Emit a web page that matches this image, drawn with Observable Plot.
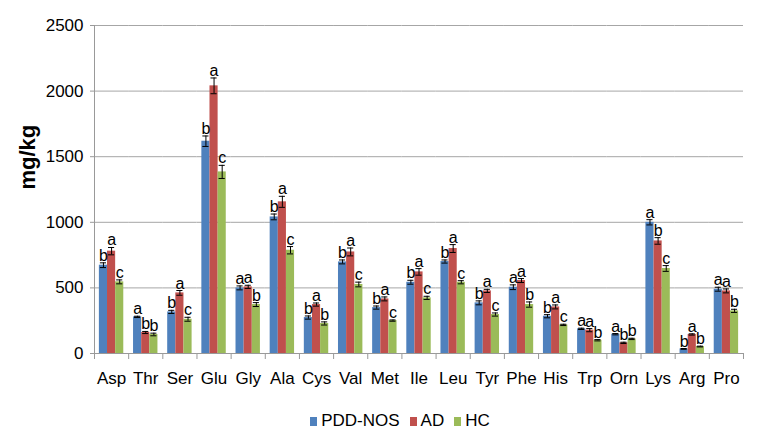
<!DOCTYPE html>
<html>
<head>
<meta charset="utf-8">
<script src="https://cdn.jsdelivr.net/npm/d3@7"></script>
<script src="https://cdn.jsdelivr.net/npm/@observablehq/plot@0.6"></script>
<style>
  html, body { margin: 0; padding: 0; background: #fff; }
  body { width: 782px; height: 445px; overflow: hidden; font-family: "Liberation Sans", Arial, sans-serif; }
  #legend { height: 42px; display: flex; align-items: center; justify-content: center; padding-left: 18px; font-size: 17px; color: #000; }
  #legend .item { display: flex; align-items: center; margin: 0 5px; }
  #legend .sw { width: 7px; height: 9px; margin-right: 4px; }
</style>
</head>
<body>
<div id="chart"></div>
<div id="legend"></div>
<script>
// ---- data ----
const aminoAcids = ["Asp","Thr","Ser","Glu","Gly","Ala","Cys","Val","Met","Ile","Leu","Tyr","Phe","His","Trp","Orn","Lys","Arg","Pro"];
const groups = ["PDD-NOS","AD","HC"];
const groupColors = ["#4F81BD","#C0504D","#9BBB59"];

const pddValues = [673, 279, 317, 1618, 500, 1041, 274, 698, 350, 543, 701, 386, 505, 284, 188, 147, 1000, 35, 490];
const adValues  = [780, 160, 462, 2040, 508, 1156, 373, 774, 416, 622, 800, 477, 556, 355, 178, 81, 858, 145, 477];
const hcValues  = [546, 145, 261, 1384, 373, 787, 229, 526, 251, 424, 543, 297, 373, 218, 101, 111, 648, 53, 325];

const pddErrors = [18, 5, 12, 40, 15, 22, 12, 15, 12, 15, 12, 15, 18, 12, 5, 5, 20, 3, 15];
const adErrors  = [28, 8, 18, 60, 12, 42, 12, 30, 15, 25, 30, 12, 15, 15, 12, 5, 25, 5, 15];
const hcErrors  = [15, 10, 15, 50, 15, 28, 12, 18, 5, 12, 12, 12, 20, 5, 5, 5, 22, 3, 12];

const pddLetters = ["b","a","b","b","a","b","b","b","b","b","b","b","a","b","a","a","a","b","a"];
const adLetters  = ["a","b","a","a","a","a","a","a","a","a","a","a","a","a","a","b","b","a","a"];
const hcLetters  = ["c","b","c","c","b","c","b","c","c","c","c","c","b","c","b","b","c","b","b"];

const yTicks = [0, 500, 1000, 1500, 2000, 2500];
const yLabel = "mg/kg";

// ---- table ----
const series = [
  {name: groups[0], values: pddValues, errors: pddErrors, letters: pddLetters},
  {name: groups[1], values: adValues,  errors: adErrors,  letters: adLetters},
  {name: groups[2], values: hcValues,  errors: hcErrors,  letters: hcLetters}
];
const rows = [];
aminoAcids.forEach((aa, i) => {
  series.forEach(s => {
    rows.push({amino: aa, group: s.name, v: s.values[i], e: s.errors[i], letter: s.letters[i]});
  });
});
const firstRows = rows.filter(d => d.group === groups[0]);
const lastRow = rows.filter(d => d.amino === aminoAcids[aminoAcids.length - 1] && d.group === groups[2]);
const axisRow = rows.filter(d => d.amino === aminoAcids[0] && d.group === groups[0]);

// ---- layout ----
const W = 782, H = 400, ML = 94, MR = 39, MT = 25, MB = 47;
const PO = 0.6;
const step = (W - ML - MR) / aminoAcids.length;
const bw = step / (groups.length + 2 * PO);
const edge = PO * bw + bw / 2;
const gridColor = "#a6a6a6";
const axisColor = "#999";

const chart = Plot.plot({
  width: W, height: H,
  marginTop: MT, marginBottom: MB, marginLeft: ML, marginRight: MR,
  style: {fontFamily: "'Liberation Sans', Arial, sans-serif", fontSize: "17px", color: "#000", background: "#fff"},
  fx: {domain: aminoAcids, padding: 0, round: false, label: null},
  x: {domain: groups, paddingInner: 0, paddingOuter: PO, round: false, axis: null},
  y: {domain: [0, 2500], label: null},
  color: {domain: groups, range: groupColors},
  marks: [
    Plot.ruleY(yTicks, {stroke: gridColor, strokeWidth: 1}),
    Plot.axisY({ticks: yTicks, tickSize: 4, tickPadding: 7, stroke: axisColor, fill: "#000", label: null, fontSize: 17, tickFormat: d => String(d)}),
    Plot.axisFx({anchor: "bottom", tickSize: 0, tickPadding: 18, label: null, fontSize: 17, fill: "#000"}),
    Plot.ruleX(axisRow, {fx: "amino", x: "group", y1: 0, y2: 2500, dx: -edge, stroke: axisColor}),
    Plot.ruleX(firstRows, {fx: "amino", x: "group", y1: 0, y2: 0, insetBottom: -6, dx: -edge, stroke: axisColor}),
    Plot.ruleX(lastRow, {fx: "amino", x: "group", y1: 0, y2: 0, insetBottom: -6, dx: edge, stroke: axisColor}),
    Plot.ruleY([0], {stroke: axisColor}),
    Plot.barY(rows, {fx: "amino", x: "group", y: "v", fill: "group"}),
    Plot.ruleX(rows, {fx: "amino", x: "group", y1: d => d.v - d.e, y2: d => d.v + d.e, stroke: "#000", strokeWidth: 1}),
    Plot.tickY(rows, {fx: "amino", x: "group", y: d => d.v + d.e, stroke: "#000", insetLeft: 1, insetRight: 1}),
    Plot.tickY(rows, {fx: "amino", x: "group", y: d => d.v - d.e, stroke: "#000", insetLeft: 1, insetRight: 1}),
    Plot.text(rows, {fx: "amino", x: "group", y: d => d.v + d.e, text: "letter", lineAnchor: "bottom", dy: -2, fontSize: 16, fill: "#000"}),
    Plot.text([yLabel], {fx: () => aminoAcids[0], text: d => d, frameAnchor: "left", rotate: -90, dx: -67, fontSize: 22, fontWeight: "bold", fill: "#000"})
  ]
});
document.getElementById("chart").appendChild(chart);

const legend = document.getElementById("legend");
groups.forEach((g, i) => {
  const item = document.createElement("div");
  item.className = "item";
  const sw = document.createElement("span");
  sw.className = "sw";
  sw.style.background = groupColors[i];
  const label = document.createElement("span");
  label.textContent = g;
  item.appendChild(sw);
  item.appendChild(label);
  legend.appendChild(item);
});
</script>
</body>
</html>
